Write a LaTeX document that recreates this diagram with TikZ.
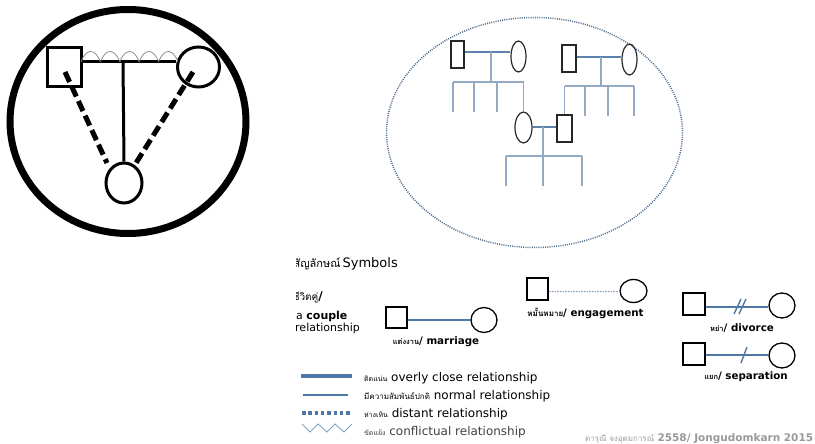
\documentclass[tikz,border=0pt]{standalone}
\usepackage{fontspec}
\setmainfont{DejaVu Sans}
\newfontfamily\thai[Script=Thai]{Loma}
\usetikzlibrary{shapes.geometric,calc}
\definecolor{cplc}{HTML}{5B82AB}
\definecolor{kidc}{HTML}{93ABC2}
\definecolor{dotc}{HTML}{4F6E8E}
\definecolor{legc}{HTML}{4E78A6}
\newcommand{\thw}[2][7.5]{{\thai\fontsize{#1}{#1}\selectfont #2}}
\begin{document}
\begin{tikzpicture}[x=1pt,y=-1pt,
  bigsq/.style={draw, line width=3, inner sep=0},
  bigci/.style={ellipse, draw, line width=3, inner sep=0},
  gsq/.style={draw=black!85, line width=1.2, inner sep=0},
  gci/.style={ellipse, draw=black!85, line width=1.2, inner sep=0},
  lsq/.style={draw, line width=1.1, inner sep=0, minimum width=21, minimum height=21},
  lci/.style={ellipse, draw, line width=1.3, inner sep=0, minimum width=26, minimum height=25},
  cpl/.style={draw=cplc, line width=1.5},
  kidl/.style={draw=kidc, line width=1.5},
  legl/.style={draw=legc, line width=1.4},
  wave/.style={draw=gray, line width=0.7},
  bigdash/.style={line width=5, dash pattern=on 11pt off 5pt},
  lbl/.style={inner sep=0, font=\fontsize{12}{14}\selectfont},
  sym/.style={inner sep=0, font=\fontsize{10.3}{12}\selectfont\bfseries},
]
\useasboundingbox (0,0) rectangle (815,444);

% ---------- left: triangle in a circle ----------
\node[ellipse, draw, line width=7, inner sep=0, minimum width=236, minimum height=224] (ring) at (128,121.5) {};
\node[bigsq, minimum width=34, minimum height=39] (lm) at (64,67.5) {};
\node[bigci, minimum width=42, minimum height=40] (lf) at (198.5,67) {};
\node[bigci, minimum width=36, minimum height=40] (lc) at (124,183) {};
\coordinate (lj) at (123,62);
\draw[line width=3] (lm.east |- lj) -- (lf.west |- lj);
\draw[line width=3] (lj) -- (lc.north);
\foreach \i in {0,...,4}{
  \draw[wave] ({81+\i*19.4},62) .. controls ({81+\i*19.4+5},48) and ({81+\i*19.4+14.4},48) .. ({81+\i*19.4+19.4},62);
}
\coordinate (dm) at (65,72);
\coordinate (dme) at (107,163);
\coordinate (df) at (193,72);
\coordinate (dfe) at (136,163);
\draw[bigdash] (dm) -- (dme);
\draw[bigdash] (df) -- (dfe);

% ---------- right: family genogram ----------
\draw[dotc, line width=1.5, dash pattern=on 1pt off 1.2pt] (534.5,132.5) ellipse [x radius=148, y radius=115];
\node[gsq, minimum width=13, minimum height=27] (s1) at (457.5,54.5) {};
\node[gci, minimum width=15, minimum height=31] (c1) at (518.5,56.5) {};
\node[gsq, minimum width=14, minimum height=27] (s2) at (569,58.5) {};
\node[gci, minimum width=15, minimum height=31] (c2) at (629.5,59.5) {};
\node[gci, minimum width=17, minimum height=31] (c3) at (523.5,127.5) {};
\node[gsq, minimum width=15, minimum height=27] (s3) at (564.5,128.5) {};

\coordinate (j1) at (491,52);  \coordinate (k1) at (491,82);
\coordinate (j2) at (601,57);  \coordinate (k2) at (601,86);
\coordinate (j3) at (543,127); \coordinate (k3) at (543,156);
\draw[cpl] (s1.east |- j1) -- (c1.west |- j1);
\draw[cpl] (s2.east |- j2) -- (c2.west |- j2);
\draw[cpl] (c3.east |- j3) -- (s3.west |- j3);
\draw[kidl] (j1) -- (k1);
\draw[kidl] (j2) -- (k2);
\draw[kidl] (j3) -- (k3);
% children of couple 1
\draw[kidl] (453,82) -- (c3.north |- k1);
\draw[kidl] (c3.north |- k1) -- (c3.north);
\foreach \x in {453,474,497} \draw[kidl] (\x,82) -- (\x,112);
% children of couple 2
\draw[kidl] (s3.north |- k2) -- (634,86);
\draw[kidl] (s3.north |- k2) -- (s3.north);
\foreach \x in {585,608,634} \draw[kidl] (\x,86) -- (\x,116);
% children of couple 3
\draw[kidl] (506,156) -- (582,156);
\foreach \x in {506,543,582} \draw[kidl] (\x,156) -- (\x,186);

% ---------- legend ----------
\begin{scope}
\clip (296,240) rectangle (420,345);
\node[lbl, anchor=base east] (symt) at (398,267) {\thw[11]{สัญลักษณ์}\,{\fontsize{13}{16}\selectfont Symbols}};
\node[lbl, anchor=base east] (cpt) at (323,300) {\thw[10]{ชีวิตคู่}\textbf{/}};
\node[lbl, anchor=base west, font=\fontsize{11}{13}\selectfont] (cpa) at (296,319) {a \textbf{couple}};
\node[lbl, anchor=base west, font=\fontsize{11}{13}\selectfont] (cpb) at (295,331) {relationship};
\end{scope}

% marriage
\node[lsq] (ms) at (396.5,317.5) {};
\node[lci] (mc) at (484,320) {};
\draw[legl] (ms.east |- mc.west) -- (mc.west);
\node[sym, anchor=base] (mt) at (436,344) {\thw{แต่งงาน}/ marriage};

% engagement
\node[lsq, minimum height=22] (es) at (537.5,289) {};
\node[lci, minimum width=27, minimum height=23] (ec) at (633.5,291) {};
\draw[draw=legc!70, line width=0.6, dash pattern=on 0.8pt off 0.8pt] (es.east |- ec.west) -- (ec.west);
\node[sym, anchor=base] (et) at (585.5,316) {\thw[8]{หมั้นหมาย}/ engagement};

% divorce
\node[lsq, minimum width=22, minimum height=22] (ds) at (694,304) {};
\node[lci] (dc) at (782,305.5) {};
\coordinate (dl) at (0,307);
\draw[legl] (ds.east |- dl) -- (dc.west |- dl);
\draw[legl] (734,314) -- (741,299);
\draw[legl] (739,314) -- (746,299);
\node[sym, anchor=base] (dt) at (742,331) {\thw{หย่า}/ divorce};

% separation
\node[lsq, minimum width=22, minimum height=22] (ps) at (694,354) {};
\node[lci] (pc) at (782,355.5) {};
\coordinate (pl) at (0,355);
\draw[legl] (ps.east |- pl) -- (pc.west |- pl);
\draw[legl] (741,363) -- (747,347);
\node[sym, anchor=base] (pt) at (746,379) {\thw{แยก}/ separation};

% relationship lines
\draw[draw=legc, line width=3.5] (301,376) -- (352,376);
\draw[draw=legc, line width=1.1] (303,395) -- (348,395);
\draw[draw=legc, line width=3.5, dash pattern=on 3.5pt off 2.8pt] (302,413) -- (352,413);
\draw[draw=legc!70, line width=0.9] (302,424) -- (310,432) -- (318,424) -- (327,432) -- (335,424) -- (344,432) -- (352,424);
\node[lbl, anchor=base west] (r1) at (364,381) {\thw[7]{ติดแน่น} overly close relationship};
\node[lbl, anchor=base west] (r2) at (364,399) {\thw[8]{มีความสัมพันธ์ปกติ} normal relationship};
\node[lbl, anchor=base west] (r3) at (364,417) {\thw[7]{ห่างเหิน} distant relationship};
\node[lbl, anchor=base west, text=black!75] (r4) at (364,435) {\thw[7]{ขัดแย้ง} conflictual relationship};

% footer
\node[inner sep=0, anchor=base west, text=black!40, font=\fontsize{10.5}{13}\selectfont] (ft) at (585,441) {\thw[8]{ดารุณี จงอุดมการณ์} \textbf{2558/ Jongudomkarn 2015}};
\end{tikzpicture}
\end{document}
